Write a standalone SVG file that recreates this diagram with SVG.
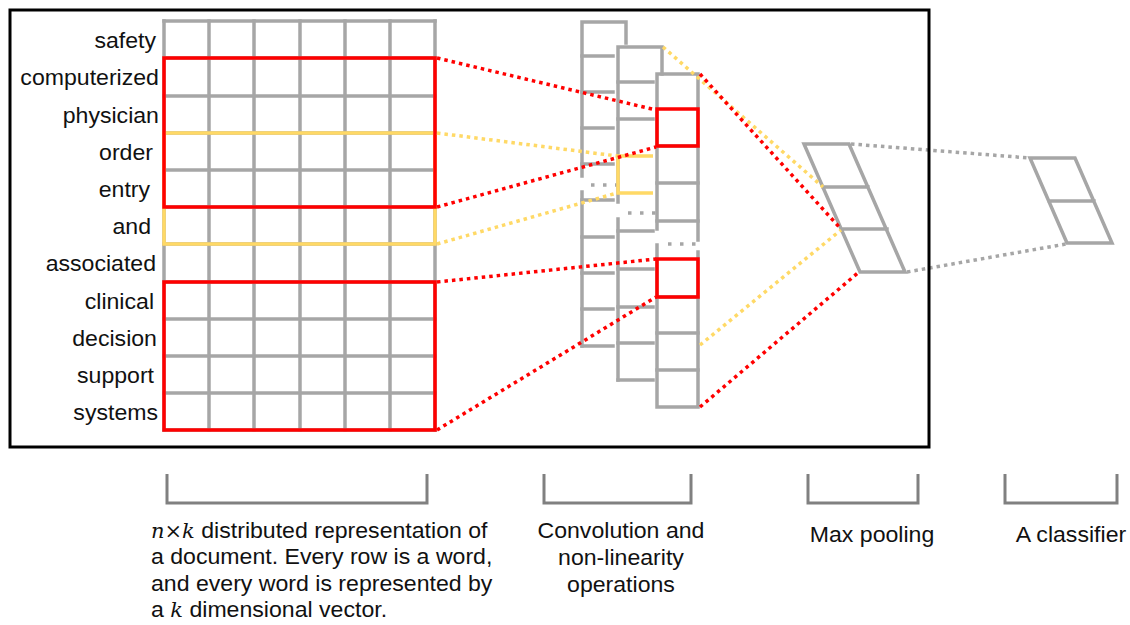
<svg xmlns="http://www.w3.org/2000/svg" width="1130" height="625" viewBox="0 0 1130 625">
  <style>
    .grid { fill: none; stroke: #a6a6a6; stroke-width: 3.5; stroke-linecap: square; }
    .red { fill: none; stroke: #ff0000; stroke-width: 3.5; }
    .yel { fill: none; stroke: #ffd966; stroke-width: 3.5; }
    .ell { fill: none; stroke: #a6a6a6; stroke-width: 3.5; stroke-dasharray: 3.5 8.5; }
    .dot-red { fill: none; stroke: #ff0000; stroke-width: 3.5; stroke-dasharray: 3.5 4; }
    .dot-yel { fill: none; stroke: #ffd966; stroke-width: 3.5; stroke-dasharray: 3.5 4; }
    .dot-gray { fill: none; stroke: #a6a6a6; stroke-width: 3.5; stroke-dasharray: 3.5 4; }
    .bracket { fill: none; stroke: #808080; stroke-width: 3; }
    .word { font-family: "Liberation Sans", Arial, sans-serif; font-size: 22px; fill: #111111; text-anchor: end; }
    .cap { font-family: "Liberation Sans", Arial, sans-serif; font-size: 22px; fill: #111111; }
    .mid { text-anchor: middle; }
    .math { font-family: "DejaVu Serif", "Liberation Serif", serif; font-style: italic; font-size: 20px; }
    .times { font-family: "DejaVu Serif", "Liberation Serif", serif; font-size: 20px; }
  </style>

  <rect width="1130" height="625" fill="#ffffff"/>

  <!-- n x k word-embedding matrix with its filter windows -->
  <g id="embedding-matrix">
    <path class="grid" d="M164,21 V430 M209,21 V430 M254,21 V430 M300,21 V430 M345,21 V430 M390,21 V430 M435,21 V430"/>
    <path class="grid" d="M164,21 H435 M164,58 H435 M164,96 H435 M164,133 H435 M164,170 H435 M164,207 H435 M164,244 H435 M164,282 H435 M164,319 H435 M164,356 H435 M164,393 H435 M164,430 H435"/>
    <rect class="yel" x="164" y="133" width="271" height="111"/>
    <rect class="red" x="164" y="58" width="271" height="149"/>
    <rect class="red" x="164" y="282" width="271" height="148"/>
  </g>

  <!-- one word per matrix row -->
  <g id="row-labels" transform="scale(1.05 1)">
    <text class="word" x="148.6" y="48">safety</text>
    <text class="word" x="151.4" y="85.5">computerized</text>
    <text class="word" x="151.4" y="123">physician</text>
    <text class="word" x="145.7" y="160">order</text>
    <text class="word" x="142.9" y="197">entry</text>
    <text class="word" x="143.8" y="234">and</text>
    <text class="word" x="148.6" y="271.5">associated</text>
    <text class="word" x="146.7" y="309">clinical</text>
    <text class="word" x="149.5" y="346">decision</text>
    <text class="word" x="146.7" y="383">support</text>
    <text class="word" x="150.5" y="420">systems</text>
  </g>

  <!-- stacked feature maps produced by the filters -->
  <g id="feature-maps">
    <g id="feature-map-1">
      <path class="grid" d="M582,22 H626 V43 M582,22 V176 M582,192 V346"/>
      <path class="grid" d="M582,56 H613 M582,92 H613 M582,128 H613 M582,164 H613 M582,200 H613 M582,237 H613 M582,273 H613 M582,309 H613 M582,346 H613"/>
      <path class="ell" d="M591,185 H622"/>
    </g>
    <g id="feature-map-2">
      <path class="grid" d="M618,47 H662 V74 M618,47 V202 M618,219 V380"/>
      <path class="grid" d="M618,82 H653 M618,119 H653 M618,231 H653 M618,269 H653 M618,307 H653 M618,343 H653 M618,380 H653"/>
      <path class="yel" d="M653,156 H618 V193 H653"/>
      <path class="ell" d="M628,213 H659"/>
    </g>
    <g id="feature-map-3">
      <path class="grid" d="M657,74 H698 M657,74 V229 M698,74 V240 M657,245 V407 M698,252 V407 M657,407 H698"/>
      <path class="grid" d="M657,146 H698 M657,183 H698 M657,221 H698 M657,297 H698 M657,333 H698 M657,370 H698"/>
      <path class="ell" d="M668,244 H699"/>
      <rect class="red" x="657" y="109" width="41" height="37"/>
      <rect class="red" x="657" y="259" width="41" height="38"/>
    </g>
  </g>

  <!-- pooled vector -->
  <g id="max-pooling">
    <path class="grid" d="M804,144 H849 L905,272 H860 Z M823,187 H868 M842,229 H887" stroke-linejoin="miter"/>
  </g>

  <!-- output layer -->
  <g id="classifier">
    <path class="grid" d="M1030,158 H1075 L1112,243 H1067 Z M1049,201 H1094"/>
  </g>

  <!-- dotted mappings between stages -->
  <g id="connectors">
    <path class="dot-red" d="M437,58 L656,110"/>
    <path class="dot-red" d="M437,207 L656,147"/>
    <path class="dot-red" d="M437,282 L656,259"/>
    <path class="dot-red" d="M437,430 L656,297"/>
    <path class="dot-yel" d="M437,133 L617,156"/>
    <path class="dot-yel" d="M437,244 L617,193"/>
    <path class="dot-yel" d="M663,47 L823,187"/>
    <path class="dot-yel" d="M700,345 L841,230"/>
    <path class="dot-red" d="M700,74 L841,229"/>
    <path class="dot-red" d="M700,407 L859,272"/>
    <path class="dot-gray" d="M851,144 L1030,158"/>
    <path class="dot-gray" d="M907,272 L1066,244"/>
  </g>

  <!-- frame round the convolution stage -->
  <rect id="frame" x="10" y="10" width="919" height="437" fill="none" stroke="#000000" stroke-width="3"/>

  <!-- stage brackets -->
  <g id="brackets">
    <path class="bracket" d="M167,474 V503 H427 V474"/>
    <path class="bracket" d="M544,474 V503 H691 V474"/>
    <path class="bracket" d="M808,474 V503 H918 V474"/>
    <path class="bracket" d="M1005,474 V503 H1117 V474"/>
  </g>

  <!-- stage captions -->
  <g id="captions" transform="scale(1.05 1)">
    <text class="cap" x="143.8" y="538"><tspan class="math">n</tspan><tspan class="times">×</tspan><tspan class="math">k</tspan> distributed representation of</text>
    <text class="cap" x="143.8" y="564.5">a document. Every row is a word,</text>
    <text class="cap" x="143.8" y="591">and every word is represented by</text>
    <text class="cap" x="143.8" y="617.5">a <tspan class="math">k</tspan> dimensional vector.</text>
    <text class="cap mid" x="591.4" y="538">Convolution and</text>
    <text class="cap mid" x="591.4" y="565">non-linearity</text>
    <text class="cap mid" x="591.4" y="592">operations</text>
    <text class="cap mid" x="830.5" y="542">Max pooling</text>
    <text class="cap mid" x="1020" y="542">A classifier</text>
  </g>
</svg>
